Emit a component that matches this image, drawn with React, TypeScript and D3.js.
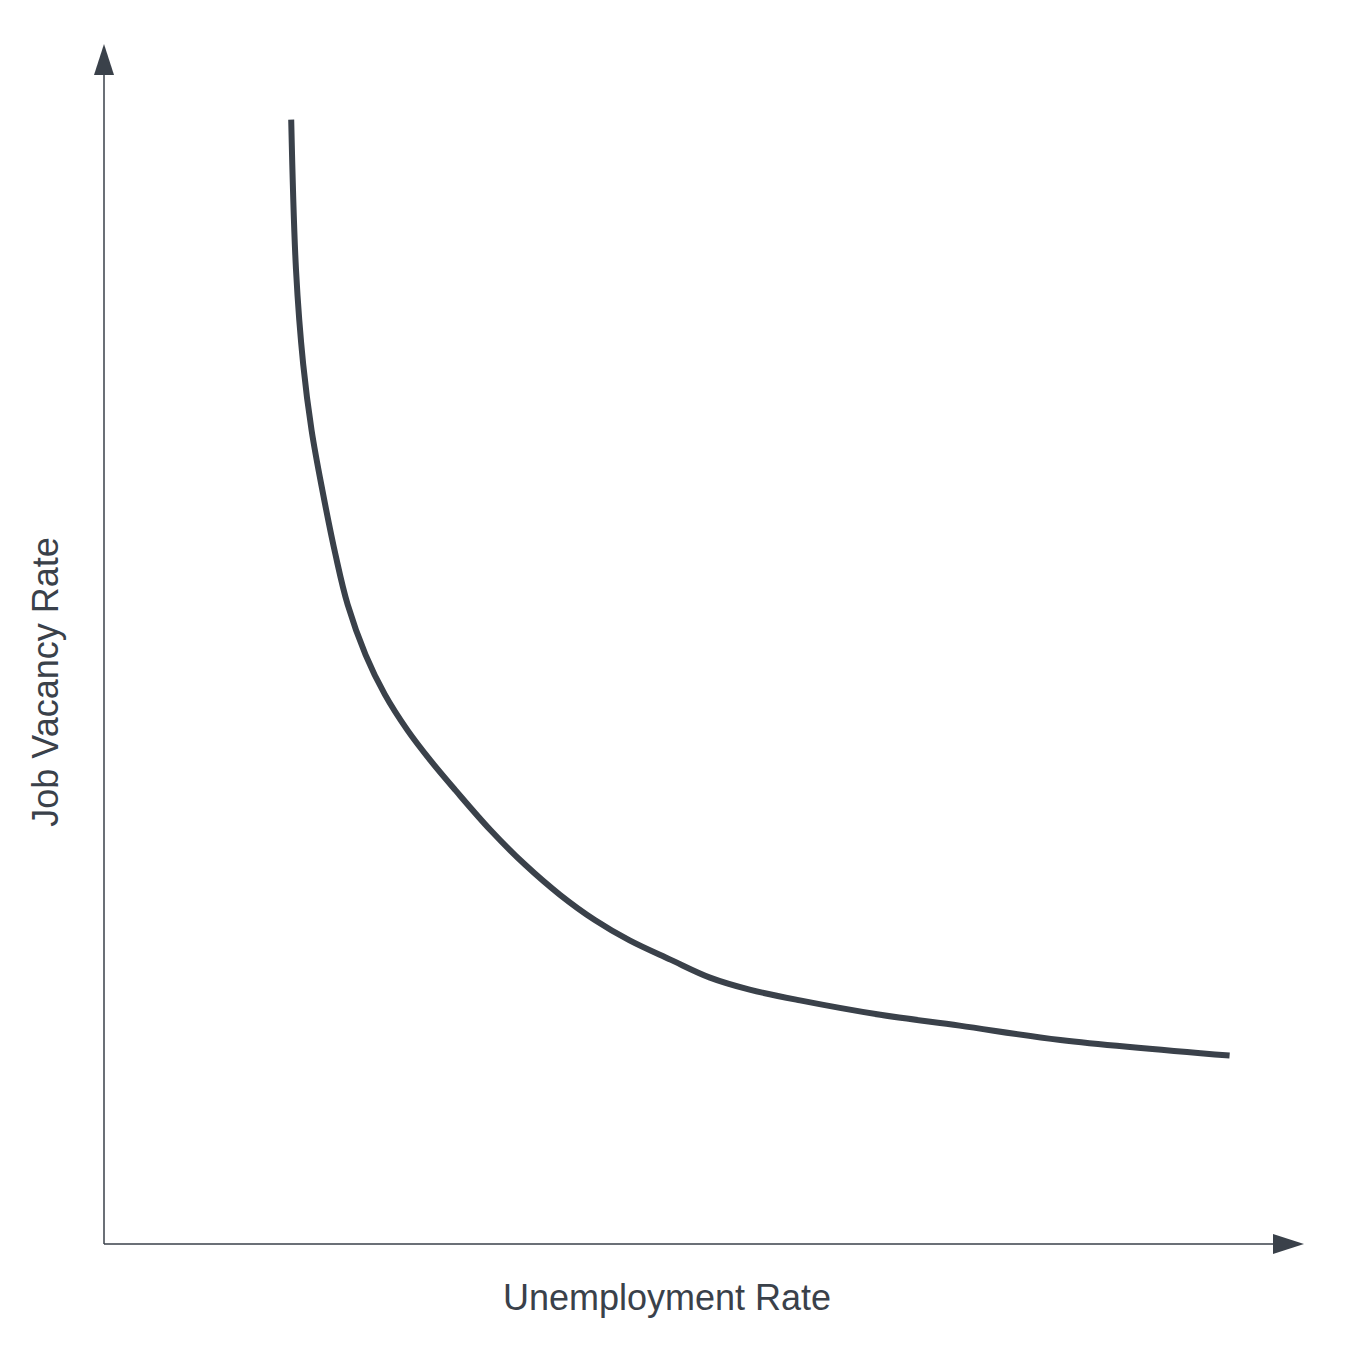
import * as d3 from "d3";

const unemployment = [15.6, 16.0, 16.6, 17.3, 18.2, 19.3, 20.3, 21.8, 23.4, 25.3, 27.2, 29.3, 32.2, 35.1, 38.0, 40.9, 43.8, 47.2, 50.5, 53.8, 58.0, 64.7, 71.3, 79.7, 93.8];
const vacancy = [93.7, 81.2, 73.3, 67.8, 62.8, 57.4, 53.3, 49.1, 45.8, 42.8, 40.3, 37.8, 34.5, 31.6, 29.1, 27.0, 25.3, 23.7, 22.2, 21.2, 20.3, 19.1, 18.2, 17.0, 15.7];
const xLabel = "Unemployment Rate";
const yLabel = "Job Vacancy Rate";

const W = 1354, H = 1361;
const ink = "#3a414a";

export default function App() {
  const x = d3.scaleLinear().domain([0, 100]).range([104, 1304]);
  const y = d3.scaleLinear().domain([0, 100]).range([1244, 44]);
  const pts: [number, number][] = unemployment.map((u, i) => [u, vacancy[i]]);
  const line = d3.line<[number, number]>()
    .x((d) => x(d[0]))
    .y((d) => y(d[1]))
    .curve(d3.curveCatmullRom);

  const x0 = x(0), y0 = y(0), xEnd = x(100), yEnd = y(100);

  return (
    <svg width={W} height={H} style={{ position: "absolute", left: 0, top: 0 }}
      fontFamily="'Liberation Sans', Arial, sans-serif">
      <rect width={W} height={H} fill="#fff" />
      <line x1={x0} y1={y0} x2={x0} y2={yEnd + 30} stroke={ink} strokeWidth={1.5} />
      <path d={`M${x0},${yEnd} L${x0 - 10},${yEnd + 31} L${x0 + 10},${yEnd + 31} Z`} fill={ink} />
      <line x1={x0} y1={y0} x2={xEnd - 30} y2={y0} stroke={ink} strokeWidth={1.5} />
      <path d={`M${xEnd},${y0} L${xEnd - 31},${y0 - 10} L${xEnd - 31},${y0 + 10} Z`} fill={ink} />
      <path d={line(pts) ?? ""} fill="none" stroke={ink} strokeWidth={6} />
      <text x={667} y={1310} textAnchor="middle" fontSize={36} fill={ink}>{xLabel}</text>
      <text transform="translate(58,682) rotate(-90)" textAnchor="middle" fontSize={36} fill={ink}>{yLabel}</text>
    </svg>
  );
}
